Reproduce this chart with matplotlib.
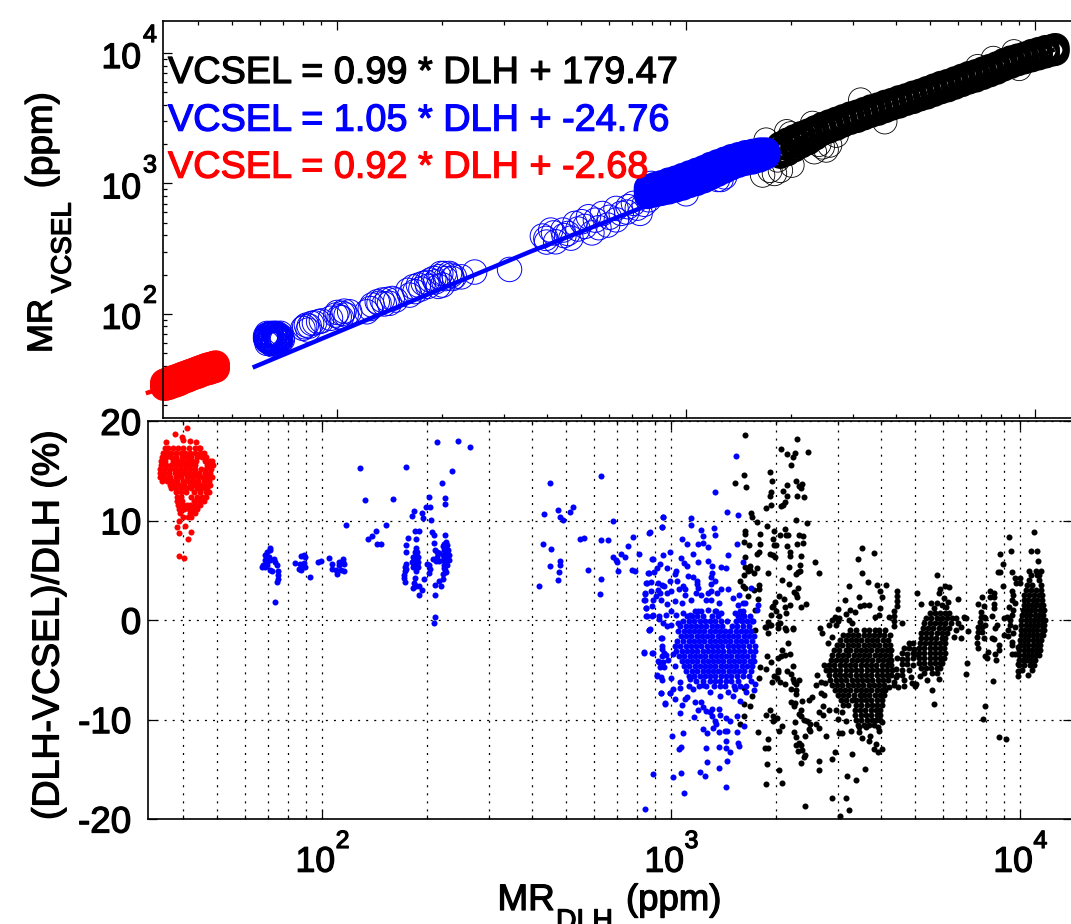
import matplotlib
matplotlib.use("Agg")
import matplotlib.pyplot as plt
import matplotlib.patheffects as pe
import numpy as np
from matplotlib.ticker import LogLocator, NullFormatter, FixedLocator

plt.rcParams['font.family'] = ['Liberation Sans', 'DejaVu Sans']

# ---- bottom panel: (log10 MR_DLH, percent difference) -----------------------
red_rows = [
 (17.3,[1.550,1.558,1.573,1.587,1.602,1.618,1.634,1.648]),
 (16.85,[1.544,1.556,1.567,1.580,1.594,1.607,1.621,1.636,1.651,1.661]),
 (16.45,[1.541,1.553,1.566,1.582,1.597,1.612,1.625,1.641,1.656,1.668]),
 (16.05,[1.539,1.549,1.572,1.586,1.600,1.615,1.628,1.638,1.665,1.677,1.684]),
 (15.65,[1.537,1.551,1.566,1.581,1.594,1.609,1.622,1.636,1.670,1.681,1.688]),
 (15.25,[1.535,1.548,1.563,1.578,1.593,1.606,1.620,1.636,1.652,1.667,1.680]),
 (14.85,[1.534,1.546,1.560,1.577,1.590,1.605,1.619,1.633,1.648,1.663,1.678]),
 (14.45,[1.536,1.550,1.565,1.580,1.596,1.611,1.626,1.640,1.655,1.670,1.683]),
 (14.05,[1.540,1.555,1.569,1.584,1.600,1.615,1.630,1.645,1.660,1.675]),
 (13.65,[1.563,1.575,1.590,1.605,1.620,1.635,1.650,1.664,1.678]),
 (13.25,[1.566,1.580,1.596,1.610,1.625,1.640,1.655,1.670]),
 (12.85,[1.580,1.595,1.610,1.632,1.650,1.668,1.675]),
 (12.4,[1.583,1.595,1.625,1.640,1.655,1.668]),
 (12.0,[1.585,1.598,1.632,1.648,1.660]),
 (11.6,[1.587,1.600,1.612,1.622,1.636,1.650]),
 (11.2,[1.590,1.604,1.618,1.630,1.642]),
 (10.8,[1.592,1.622,1.635]),
 (10.4,[1.600,1.615,1.625]),
]
red_single = [(1.613,19.3),(1.578,18.7),(1.597,18.4),(1.552,17.9),(1.621,18.0),(1.637,17.9),(1.650,17.3),(1.602,18.1),
 (1.590,9.95),(1.584,9.35),(1.608,9.5),(1.590,8.8),(1.623,8.9),(1.616,8.2),(1.590,6.5),(1.604,6.3)]

blue_low = [
 (1.851,7.3),(1.851,7.1),(1.841,6.9),(1.836,6.6),(1.846,6.4),(1.836,6.1),(1.831,5.6),(1.841,5.9),(1.851,6.1),(1.861,6.2),
 (1.866,5.9),(1.871,5.6),(1.836,5.4),(1.851,5.1),(1.856,4.9),(1.873,4.9),(1.873,4.5),(1.873,4.1),(1.871,3.8),(1.866,1.8),(1.828,5.4),(1.843,5.6),
 (1.948,6.6),(1.940,6.5),(1.950,6.4),(1.923,5.8),(1.935,5.7),(1.948,5.8),(1.933,5.2),(1.940,5.1),(1.950,5.4),(1.945,5.6),(1.964,4.3),
 (1.989,5.9),(1.997,6.0),(2.018,6.3),
 (2.059,6.2),(2.048,5.9),(2.060,5.9),(2.029,5.7),(2.063,5.7),(2.048,5.6),(2.029,5.2),(2.038,5.1),(2.063,4.9),(2.043,4.6),(2.053,5.1),
 (2.108,15.3),(2.122,12.1),(2.202,12.2),(2.239,15.4),(2.328,17.9),(2.389,18.0),(2.424,17.4),(2.371,15.0),(2.343,13.8),(2.352,12.3),(2.352,11.7),
 (2.305,12.4),(2.297,11.4),(2.309,11.4),(2.263,11.0),(2.256,10.5),(2.286,10.8),(2.288,10.3),(2.312,10.1),(2.067,9.6),(2.182,9.6),(2.154,9.0),
 (2.142,8.5),(2.132,8.2),(2.167,7.7),(2.157,7.7),
 (2.233,4.5),(2.236,3.8),(2.239,5.7),(2.239,5.2),(2.236,4.9),(2.241,7.6),(2.241,6.9),(2.246,8.3),(2.233,4.2),(2.236,5.4),
 (2.270,7.3),(2.266,6.9),(2.272,6.9),(2.259,6.4),(2.266,6.4),(2.275,6.4),(2.258,5.9),(2.266,5.9),(2.275,5.9),(2.259,5.4),(2.269,5.4),(2.275,5.4),
 (2.268,4.9),(2.262,6.1),(2.270,6.1),(2.264,5.6),(2.272,5.6),(2.270,6.7),
 (2.266,9.0),(2.277,9.0),(2.270,8.2),(2.266,4.2),(2.264,3.7),(2.259,3.2),(2.270,3.4),(2.285,3.0),(2.276,2.5),(2.278,3.4),
 (2.315,8.9),(2.320,8.6),(2.320,7.8),(2.322,7.1),(2.330,6.9),(2.318,6.2),(2.325,6.0),(2.300,5.7),(2.305,5.6),(2.310,5.2),(2.305,4.7),(2.293,4.1),
 (2.322,3.5),(2.323,2.5),(2.323,0.3),(2.321,-0.3),(2.335,6.8),(2.335,6.0),(2.330,6.4),
 (2.351,8.6),(2.356,7.9),(2.345,7.5),(2.359,7.6),(2.349,7.1),(2.361,7.1),(2.345,6.6),(2.354,6.6),(2.362,6.6),(2.345,6.1),(2.354,6.1),(2.362,6.1),
 (2.349,5.6),(2.359,5.6),(2.351,5.1),(2.345,4.6),(2.354,4.8),(2.347,4.1),(2.335,3.9),(2.340,3.4),(2.349,7.7),(2.353,7.3),(2.358,6.9),(2.350,5.3),
]
blue_mid = [
 (2.654,13.8),(2.798,14.5),(2.636,10.7),(2.677,11.1),(2.720,11.4),(2.711,10.9),(2.681,10.4),(2.691,10.1),(2.834,10.0),(2.632,7.7),(2.656,7.2),
 (2.738,8.2),(2.750,8.3),(2.798,8.1),(2.818,8.1),(2.681,6.0),(2.681,5.6),(2.654,5.5),(2.678,4.8),(2.676,4.0),(2.622,3.4),(2.761,5.1),(2.800,4.1),
 (2.796,2.6),(2.847,4.9),(2.832,6.4),(2.842,6.1),(2.845,5.9),(2.857,6.7),(2.869,6.4),(2.877,7.5),(2.891,8.4),(2.937,8.8),(2.909,6.7),(2.888,5.1),
 (2.897,4.9),(2.977,10.4),(2.975,9.4),(2.946,6.2),(2.936,4.7),(2.930,3.7),(2.925,2.7),(2.923,2.0),(2.928,1.2),(2.928,0.4),(2.946,0.4),(2.936,-1.0),
 (2.922,-3.2),(2.946,-3.3),(2.965,0.4),(2.971,-1.8),(2.975,-2.6),(2.980,-3.3),(2.965,-4.2),(2.980,-4.7),(2.960,-5.6),(2.970,-5.7),(2.971,-7.3),(2.982,-8.3),(2.997,-7.3),
]
blue_upper = [
 (3.187,16.5),(3.126,12.9),(3.161,10.9),(3.191,10.6),(2.978,10.4),(3.056,10.3),(2.975,9.4),(3.057,9.6),(2.939,8.9),(3.085,9.1),(3.122,9.3),(3.091,8.5),
 (3.126,8.6),(3.031,8.2),(3.046,7.7),(3.077,7.7),(3.092,7.8),(3.106,7.4),(3.188,7.7),(2.996,6.9),(2.977,6.6),(2.947,6.2),(3.029,6.3),(3.063,6.7),(3.163,6.6),
 (2.968,5.7),(2.960,5.3),(2.987,5.3),(3.038,5.8),(3.045,5.5),(3.076,5.9),(3.105,6.0),(3.118,5.5),(3.142,5.4),(3.156,5.3),(2.934,4.7),(2.951,4.8),(3.015,5.0),
 (3.012,4.6),(3.048,4.4),(3.115,4.3),(3.118,4.7),(3.127,3.9),(3.063,4.3),(3.073,3.9),(3.074,3.6),(2.929,3.7),(2.941,3.8),(2.998,3.9),(3.017,3.9),(3.114,3.6),
 (2.963,3.7),(2.973,3.5),(2.979,3.4),(3.022,3.1),(3.034,3.4),(3.039,3.1),(3.077,3.2),(2.941,2.9),(2.963,3.0),(2.967,2.7),(3.001,2.9),(2.989,2.7),(2.925,2.6),
 (2.948,2.0),(2.925,2.0),(2.944,1.4),(2.929,1.2),(2.958,2.4),(2.970,2.0),(2.987,1.6),(3.011,1.9),(3.030,1.7),(3.039,2.5),(3.072,2.7),(3.086,2.5),(3.106,2.7),
 (3.113,2.9),(3.132,2.7),(3.144,3.1),(3.163,3.1),(3.176,2.2),(3.195,2.5),(3.101,2.0),(3.115,2.0),(3.058,2.0),(3.136,1.7),(3.192,1.5),(3.206,1.7),(3.230,3.2),
 (3.206,5.9),(3.250,1.5),(3.245,1.0),(2.931,0.4),(2.948,0.5),(2.965,0.1),(2.986,0.5),(3.001,0.9),(3.015,0.5),(3.034,0.7),(3.053,0.5),(3.077,0.9),(3.105,1.0),
 (3.125,0.9),(3.144,0.7),(3.183,0.7),(3.197,0.9),(3.211,1.7),(3.197,0.0),(3.235,-0.1),(2.977,-0.3),(3.000,-0.5),(3.019,-0.3),(2.939,-0.9),(2.987,-0.6),
]
blue_lower = [
 (2.937,-1.0),(2.923,-3.3),(2.947,-3.3),(2.972,-7.3),(2.983,-8.4),(3.011,-7.9),(2.997,-7.3),(3.025,-9.3),(3.031,-8.5),(3.041,-7.9),(3.046,-7.7),(3.066,-9.7),
 (3.077,-9.0),(3.090,-10.9),(3.103,-11.3),(3.120,-10.8),(3.138,-11.2),(3.154,-11.1),(3.160,-11.1),(3.190,-11.2),(3.208,-10.6),(3.190,-9.6),(3.157,-9.8),
 (3.168,-10.1),(3.141,-9.5),(3.130,-10.4),(3.125,-10.1),(3.118,-9.6),(3.111,-9.2),(3.136,-8.9),(3.118,-8.9),(3.101,-9.1),(3.092,-8.7),(3.085,-8.2),(3.068,-8.2),
 (3.003,-11.7),(3.034,-11.3),(3.027,-12.8),(3.023,-13.0),(3.099,-12.9),(3.136,-12.8),(3.158,-12.9),(3.158,-12.2),(3.168,-13.3),(3.192,-12.4),(3.194,-12.7),
 (3.104,-14.3),(3.161,-14.2),(3.137,-14.9),(3.083,-15.3),(3.097,-15.7),(2.948,-15.5),(3.029,-15.4),(3.005,-15.8),(3.037,-17.4),(3.157,-16.8),(2.926,-19.0),
 (2.960,-5.5),(2.975,-6.0),(3.001,-5.8),(3.025,-6.2),(3.006,-6.9),(3.025,-6.8),(3.053,-5.9),(3.063,-6.9),(3.090,-6.5),(3.111,-7.2),(3.139,-7.6),(3.163,-7.2),
 (3.178,-7.6),(3.197,-8.1),(3.182,-6.9),(3.238,-7.0),(3.240,-6.4),(3.216,-7.2),(2.968,-4.7),(2.977,-4.2),(2.991,-4.0),(2.963,-4.1),(2.974,-3.6),(2.975,-2.9),(2.974,-1.8),
 (3.005,-3.4),(2.985,-3.5),
]
blue_core_rows = [
 (0.9,[3.068,3.086,3.130,3.205]),
 (0.4,[3.045,3.060,3.075,3.092,3.118,3.135,3.192,3.210,3.226]),
 (-0.1,[3.035,3.050,3.066,3.082,3.098,3.112,3.127,3.142,3.160,3.186,3.202,3.218,3.232]),
 (-0.6,[3.026,3.042,3.057,3.071,3.087,3.101,3.116,3.131,3.146,3.175,3.190,3.206,3.222]),
 (-1.1,[3.020,3.036,3.052,3.065,3.080,3.095,3.110,3.125,3.140,3.155,3.170,3.185,3.200,3.215,3.230]),
 (-1.6,[3.028,3.044,3.058,3.073,3.088,3.103,3.118,3.133,3.148,3.163,3.178,3.193,3.208,3.223,3.238]),
 (-2.1,[3.018,3.034,3.050,3.065,3.080,3.095,3.110,3.125,3.140,3.155,3.170,3.185,3.200,3.215,3.232]),
 (-2.6,[3.010,3.026,3.042,3.057,3.072,3.087,3.102,3.117,3.132,3.147,3.162,3.177,3.192,3.207,3.222,3.240]),
 (-3.1,[3.014,3.030,3.046,3.060,3.075,3.090,3.105,3.120,3.135,3.150,3.165,3.180,3.195,3.210,3.226,3.240]),
 (-3.6,[3.022,3.038,3.053,3.068,3.083,3.098,3.113,3.128,3.143,3.158,3.173,3.188,3.203,3.218,3.234]),
 (-4.1,[3.030,3.045,3.060,3.075,3.090,3.105,3.120,3.135,3.150,3.165,3.180,3.195,3.210,3.225,3.238]),
 (-4.6,[3.012,3.036,3.052,3.067,3.082,3.097,3.112,3.127,3.142,3.157,3.172,3.187,3.202,3.217,3.232]),
 (-5.1,[3.044,3.060,3.075,3.090,3.105,3.120,3.135,3.150,3.165,3.180,3.195,3.210,3.228]),
 (-5.6,[3.050,3.066,3.082,3.097,3.112,3.127,3.142,3.157,3.172,3.190,3.205,3.222]),
 (-6.1,[3.072,3.092,3.110,3.126,3.141,3.156,3.172,3.192,3.228]),
 (-6.6,[3.050,3.080,3.100,3.122,3.140,3.155,3.180,3.198,3.214]),
]

black_scatter = [
 (3.212,18.6),(3.361,18.2),(3.315,17.2),(3.331,16.7),(3.355,16.8),(3.350,16.4),(3.343,15.6),(3.393,16.9),(3.283,14.9),(3.208,14.6),(3.182,13.8),(3.216,13.4),
 (3.289,14.0),(3.331,13.6),(3.358,14.0),(3.375,13.7),(3.367,13.5),(3.373,13.3),(3.320,13.0),(3.287,12.9),(3.284,12.5),(3.331,12.5),(3.360,12.5),(3.382,12.4),
 (3.327,11.9),(3.321,11.6),(3.316,11.5),(3.285,11.6),(3.273,11.3),(3.230,10.8),(3.233,10.4),(3.246,9.9),(3.276,9.5),(3.358,10.1),(3.389,9.8),(3.326,9.2),
 (3.295,9.0),(3.212,9.0),(3.212,8.7),(3.255,8.7),(3.312,8.6),(3.328,8.6),(3.336,8.6),(3.366,8.6),(3.378,8.5),(3.292,8.2),(3.209,7.9),(3.222,7.6),(3.255,7.7),
 (3.294,7.6),(3.302,7.6),(3.333,7.5),(3.362,7.7),(3.379,7.8),(3.251,6.9),(3.245,6.7),(3.283,6.7),(3.293,6.6),(3.299,6.4),(3.340,6.9),(3.340,6.5),(3.212,6.4),
 (3.371,6.5),(3.212,5.4),(3.227,5.5),(3.246,5.3),(3.226,5.1),(3.339,5.4),(3.369,5.6),(3.369,4.9),(3.359,4.6),(3.364,4.8),(3.221,5.0),(3.238,4.7),(3.209,4.5),
 (3.278,4.7),(3.197,3.9),(3.319,4.0),(3.338,3.6),(3.365,3.2),(3.206,3.4),(3.211,3.2),(3.238,3.0),(3.252,3.5),(3.252,3.1),(3.353,2.8),(3.358,2.6),(3.362,2.3),
 (3.308,2.4),(3.297,1.8),(3.324,2.1),(3.249,2.1),(3.221,2.4),(3.342,1.5),(3.388,1.6),(3.372,1.3),(3.292,1.4),(3.290,1.3),(3.302,0.9),(3.327,1.3),(3.240,1.0),
 (3.330,0.7),(3.287,0.5),(3.308,0.4),(3.206,0.5),(3.278,-0.2),(3.286,-0.5),(3.307,-0.4),(3.268,-0.7),(3.327,-0.8),(3.350,-0.8),
 (3.240,-1.0),(3.278,-1.3),(3.271,-0.7),(3.283,-0.5),(3.307,-0.8),(3.328,-1.0),(3.350,-0.9),(3.311,-0.3),(3.335,-2.3),(3.319,-3.0),(3.342,-3.4),(3.326,-3.5),
 (3.316,-3.6),(3.305,-3.8),(3.275,-3.6),(3.285,-4.2),(3.350,-4.6),(3.272,-4.9),(3.333,-5.1),(3.305,-5.0),(3.307,-5.2),(3.345,-5.4),(3.350,-5.9),(3.367,-6.0),
 (3.295,-5.6),(3.304,-5.8),(3.290,-6.2),(3.311,-6.2),(3.325,-6.4),(3.352,-6.2),(3.357,-6.4),(3.345,-6.9),(3.359,-7.0),(3.359,-7.4),(3.344,-8.2),(3.354,-8.3),
 (3.351,-8.6),(3.376,-8.1),(3.371,-9.0),(3.367,-9.4),(3.371,-9.6),(3.380,-10.0),(3.390,-10.1),(3.397,-10.4),(3.397,-11.1),(3.283,-9.0),(3.273,-9.5),(3.292,-9.6),
 (3.304,-9.8),(3.292,-10.1),(3.354,-10.2),(3.318,-10.6),(3.308,-11.1),(3.248,-11.2),(3.197,-10.4),(3.225,-8.6),(3.208,-8.4),(3.233,-7.6),(3.208,-6.8),(3.209,-9.6),
 (3.352,-11.2),(3.357,-11.8),(3.383,-11.7),(3.367,-12.4),(3.373,-12.6),(3.359,-12.6),(3.365,-13.2),(3.383,-13.6),(3.380,-13.8),(3.375,-13.1),(3.279,-12.0),
 (3.268,-12.9),(3.278,-12.9),(3.274,-14.5),(3.308,-15.1),(3.273,-16.5),(3.318,-16.4),(3.372,-14.4),(3.385,-18.7),(3.252,-5.8),(3.254,-4.7),
 (3.413,5.9),(3.424,4.7),(3.547,7.3),(3.536,6.2),(3.582,6.8),(3.548,4.7),(3.565,3.8),(3.510,3.4),(3.590,3.5),(3.617,3.5),(3.598,2.9),(3.603,2.3),(3.539,2.3),
 (3.497,2.0),(3.552,1.5),(3.541,1.4),(3.567,1.5),(3.600,1.2),(3.478,1.1),(3.513,1.0),(3.526,0.8),(3.501,0.6),(3.470,0.3),(3.482,0.2),(3.585,0.3),(3.597,0.5),(3.625,0.3),
 (3.461,0.0),(3.477,-0.1),(3.510,0.0),(3.453,-0.5),(3.472,-0.5),(3.519,-0.3),(3.428,-0.8),(3.433,-1.3),(3.462,-1.7),(3.450,-2.3),
 (3.419,-5.5),(3.438,-4.5),(3.443,-5.0),(3.414,-6.5),(3.429,-6.2),(3.441,-6.3),(3.429,-7.3),(3.438,-7.5),(3.395,-8.0),(3.405,-7.7),(3.434,-8.6),(3.424,-9.2),
 (3.434,-9.5),(3.453,-9.0),(3.472,-9.0),(3.491,-9.2),(3.477,-9.9),(3.501,-10.1),(3.415,-10.4),(3.395,-10.9),(3.424,-10.8),(3.539,-11.2),(3.515,-11.1),
 (3.481,-11.3),(3.489,-11.3),(3.445,-11.7),(3.548,-11.9),(3.569,-11.7),(3.567,-12.2),(3.587,-12.5),(3.582,-13.0),(3.594,-13.3),(3.604,-13.0),(3.469,-13.3),
 (3.462,-14.0),(3.517,-13.5),(3.424,-14.2),(3.424,-15.1),(3.555,-15.0),(3.505,-15.7),(3.530,-16.1),(3.462,-17.9),(3.502,-17.9),(3.511,-19.1),(3.483,-19.7),
 (3.598,-10.0),(3.604,-10.2),(3.592,-10.7),(3.596,-11.1),(3.558,-10.7),(3.539,-10.7),(3.625,-6.7),(3.639,-6.2),(3.644,-5.7),
]
black_core_rows = [
 (-1.0,[3.512,3.530,3.552,3.568,3.583,3.597,3.612]),
 (-1.5,[3.493,3.508,3.522,3.537,3.552,3.568,3.581,3.596,3.611,3.628]),
 (-2.0,[3.483,3.500,3.515,3.530,3.545,3.561,3.576,3.590,3.606,3.622]),
 (-2.5,[3.474,3.490,3.507,3.522,3.537,3.552,3.567,3.582,3.597,3.612,3.628]),
 (-3.0,[3.468,3.482,3.500,3.514,3.529,3.544,3.559,3.574,3.589,3.604,3.619,3.630]),
 (-3.5,[3.462,3.478,3.493,3.508,3.523,3.538,3.553,3.568,3.583,3.598,3.613,3.628]),
 (-4.0,[3.457,3.472,3.487,3.502,3.517,3.532,3.547,3.562,3.577,3.592,3.607,3.622,3.631]),
 (-4.5,[3.453,3.468,3.483,3.498,3.513,3.528,3.543,3.558,3.573,3.588,3.603,3.618,3.630]),
 (-5.0,[3.455,3.470,3.485,3.500,3.515,3.530,3.545,3.560,3.575,3.590,3.605,3.620,3.632]),
 (-5.5,[3.453,3.469,3.484,3.499,3.514,3.529,3.544,3.559,3.574,3.589,3.604,3.619,3.630]),
 (-6.0,[3.456,3.472,3.487,3.502,3.517,3.532,3.547,3.562,3.577,3.592,3.607,3.622]),
 (-6.5,[3.461,3.476,3.491,3.506,3.521,3.536,3.551,3.566,3.581,3.596,3.610]),
 (-7.0,[3.469,3.484,3.499,3.514,3.529,3.544,3.559,3.574,3.589,3.604,3.612]),
 (-7.5,[3.478,3.493,3.508,3.523,3.540,3.553,3.568,3.583,3.598,3.610]),
 (-8.0,[3.486,3.501,3.518,3.530,3.544,3.559,3.574,3.589,3.604]),
 (-8.5,[3.492,3.508,3.530,3.545,3.560,3.575,3.590,3.604]),
 (-9.0,[3.528,3.542,3.557,3.572,3.587,3.600]),
 (-9.5,[3.528,3.544,3.559,3.574,3.589,3.598]),
 (-10.0,[3.530,3.545,3.560,3.575,3.587]),
 (-10.5,[3.537,3.552,3.567,3.581]),
]
black_b = [
 (3.646,2.9),(3.646,2.4),(3.646,1.9),(3.646,1.4),(3.639,0.9),(3.639,0.4),(3.639,-0.1),(3.639,-0.6),
 (3.682,-2.3),(3.692,-2.3),(3.667,-2.8),(3.682,-2.8),(3.697,-2.9),(3.662,-3.3),(3.677,-3.4),(3.692,-3.3),(3.702,-3.4),(3.663,-3.9),(3.677,-3.9),(3.692,-3.8),
 (3.663,-4.4),(3.677,-4.4),(3.692,-4.5),(3.663,-5.0),(3.682,-5.0),(3.663,-5.5),(3.687,-5.7),(3.667,-6.0),(3.690,-6.3),(3.667,-6.6),(3.698,-6.6),(3.701,-6.4),
 (3.650,-6.7),(3.640,-6.5),(3.646,-5.5),(3.645,-4.9),(3.648,-3.8),
]
black_c_rows = [
 (0.7,[3.741,3.756,3.771,3.786,3.797]),
 (0.2,[3.731,3.746,3.761,3.776,3.791,3.806]),
 (-0.3,[3.726,3.741,3.756,3.771,3.786,3.801]),
 (-0.8,[3.722,3.737,3.752,3.767,3.782,3.797]),
 (-1.3,[3.716,3.731,3.746,3.761,3.776,3.790]),
 (-1.8,[3.715,3.730,3.745,3.760,3.775,3.786]),
 (-2.3,[3.712,3.727,3.742,3.757,3.772,3.786]),
 (-2.8,[3.711,3.726,3.741,3.756,3.771,3.782]),
 (-3.3,[3.711,3.726,3.741,3.756,3.771,3.786]),
 (-3.8,[3.711,3.726,3.741,3.756,3.771,3.782]),
 (-4.3,[3.711,3.726,3.741,3.756,3.771,3.777]),
 (-4.8,[3.716,3.731,3.746,3.761,3.772]),
 (-5.3,[3.726,3.749,3.763]),
]
black_c_extra = [
 (3.763,4.5),(3.772,3.1),(3.785,3.4),(3.797,3.3),(3.768,2.7),(3.782,2.2),(3.794,1.8),(3.821,2.1),(3.704,2.7),(3.716,1.6),(3.744,1.7),(3.763,1.7),(3.777,1.5),
 (3.754,1.2),(3.787,1.3),(3.816,0.2),(3.840,0.3),(3.845,0.2),(3.852,-1.1),(3.821,-0.3),(3.830,-0.7),(3.811,-1.7),(3.832,-1.8),(3.816,-1.0),(3.663,-0.3),
 (3.749,-7.0),(3.754,-8.4),(3.734,-6.0),(3.768,-5.9),(3.714,-5.6),(3.847,-4.3),(3.845,-5.4),(3.923,-6.1),(3.900,-8.6),(3.895,-9.9),(3.940,-11.8),(3.959,-12.0),
]
black_d = [
 (3.892,2.3),(3.880,1.6),(3.896,1.4),(3.889,0.8),(3.887,0.3),(3.896,0.3),(3.885,-0.2),(3.901,0.2),(3.881,-0.7),(3.891,-0.7),(3.901,-0.5),(3.881,-1.2),(3.891,-1.2),
 (3.876,-1.7),(3.896,-1.8),(3.876,-2.3),(3.879,-2.8),(3.920,-1.8),(3.925,-1.9),(3.915,2.9),(3.924,2.7),(3.915,2.3),(3.924,2.3),(3.924,1.6),(3.926,1.2),(3.920,0.4),
 (3.933,-0.5),(3.954,0.2),(3.964,0.3),(3.929,-0.8),(3.954,-1.5),(3.940,-2.5),(3.940,-3.0),(3.928,-3.4),(3.930,-4.0),(3.909,-3.2),(3.906,-3.8),(3.899,-3.6),
 (3.985,-3.4),
]
black_e_rows = [
 (5.0,[4.026,4.045,4.059]),
 (4.5,[4.031,4.050,4.054]),
 (4.0,[4.026,4.054]),
 (3.5,[4.021,4.035,4.059]),
 (3.0,[4.016,4.031,4.045,4.059]),
 (2.5,[4.012,4.026,4.040,4.054,4.062]),
 (2.0,[4.012,4.024,4.038,4.050,4.064]),
 (1.5,[4.010,4.022,4.034,4.046,4.058,4.066]),
 (1.0,[4.008,4.020,4.032,4.044,4.056,4.068]),
 (0.5,[4.006,4.018,4.030,4.042,4.054,4.066]),
 (0.0,[4.004,4.016,4.028,4.040,4.052,4.064,4.072]),
 (-0.5,[4.004,4.016,4.028,4.040,4.052,4.064,4.070]),
 (-1.0,[4.002,4.014,4.026,4.038,4.050,4.062,4.068]),
 (-1.5,[4.002,4.014,4.026,4.038,4.050,4.060,4.066]),
 (-2.0,[4.000,4.012,4.024,4.036,4.048,4.060]),
 (-2.5,[4.000,4.012,4.024,4.036,4.048,4.058]),
 (-3.0,[3.998,4.010,4.022,4.034,4.046,4.056]),
 (-3.5,[3.998,4.010,4.022,4.034,4.046,4.054]),
 (-4.0,[3.996,4.008,4.020,4.032,4.044]),
 (-4.5,[3.997,4.012,4.028,4.040]),
 (-5.0,[4.005,4.035]),
]
black_e_extra = [
 (3.968,8.4),(3.975,7.0),(3.943,6.7),(3.951,5.7),(3.937,4.8),(3.944,4.8),(3.978,4.8),(3.986,4.2),(4.000,4.2),(3.988,3.7),(4.000,3.7),(3.952,3.4),(3.978,2.9),
 (3.981,2.5),(3.976,2.0),(3.986,1.7),(3.968,1.3),(3.981,1.0),(3.976,0.5),(3.971,0.0),(3.971,-0.5),(3.986,-0.7),(3.966,-1.0),(3.981,-1.3),(3.966,-1.6),(3.976,-2.2),
 (3.978,-2.5),(3.995,-2.7),(3.976,-3.4),(3.995,-4.4),(3.993,-5.1),(3.995,-5.6),(4.023,-5.5),(4.039,8.9),(4.031,7.0),(4.050,7.0),(4.051,6.0),
]

# ---- top panel: (log10 x, log10 y) read along the band -----------------------
top_black_core = [
 (3.27,[3.22,3.25,3.29]),(3.29,[3.24,3.28,3.32]),(3.31,[3.27,3.31,3.345]),(3.33,[3.30,3.335,3.37]),(3.35,[3.325,3.36,3.39]),(3.37,[3.36,3.39,3.415]),
 (3.39,[3.395,3.42,3.44]),(3.41,[3.415,3.44,3.46]),(3.43,[3.435,3.46,3.48]),(3.45,[3.46,3.48,3.50]),(3.47,[3.48,3.50,3.52]),(3.49,[3.495,3.515,3.535]),
 (3.51,[3.515,3.535,3.555]),(3.53,[3.535,3.555,3.575]),(3.55,[3.55,3.57,3.59]),(3.57,[3.57,3.59,3.61]),(3.59,[3.59,3.61,3.625]),(3.61,[3.605,3.625,3.645]),
 (3.63,[3.625,3.645,3.66]),(3.65,[3.64,3.66,3.68]),(3.67,[3.66,3.68,3.695]),(3.69,[3.675,3.695,3.715]),(3.71,[3.695,3.715,3.735]),(3.73,[3.715,3.735,3.755]),
 (3.75,[3.73,3.75,3.77]),(3.77,[3.75,3.77,3.79]),(3.79,[3.77,3.79,3.81]),(3.81,[3.79,3.81,3.83]),(3.83,[3.805,3.825,3.845]),(3.85,[3.825,3.845,3.865]),
 (3.87,[3.845,3.865,3.885]),(3.89,[3.865,3.885,3.905]),(3.91,[3.89,3.91,3.93]),(3.93,[3.91,3.93,3.95]),(3.95,[3.93,3.95,3.965]),(3.97,[3.945,3.965,3.98]),
 (3.99,[3.96,3.98,4.00]),(4.01,[3.975,3.995,4.015]),(4.03,[3.99,4.01,4.03]),(4.05,[4.005,4.02,4.04]),(4.058,[4.01,4.027,4.045]),
]
top_black_rings = [
 (3.229,3.332),(3.219,3.064),(3.253,3.076),(3.303,3.140),(3.288,3.396),(3.367,3.243),(3.411,3.294),(3.401,3.256),(3.362,3.460),(3.500,3.639),(3.569,3.473),
 (3.880,3.958),(3.939,4.009),(3.835,3.895),(3.954,3.882),(3.262,3.18),(3.24,3.10),(3.27,3.10),(3.38,3.30),(3.39,3.28),(3.30,3.38),(3.43,3.37),
]
top_blue_core = [
 (2.90,[2.92,2.94,2.96]),(2.92,[2.93,2.955,2.98]),(2.94,[2.945,2.97,2.995]),(2.96,[2.96,2.985,3.01]),(2.98,[2.975,3.00,3.03]),(3.00,[2.99,3.02,3.05]),
 (3.02,[3.01,3.04,3.07]),(3.04,[3.03,3.06,3.09]),(3.06,[3.05,3.08,3.11]),(3.08,[3.08,3.105,3.13]),(3.10,[3.105,3.13,3.155]),(3.12,[3.13,3.155,3.175]),
 (3.14,[3.15,3.175,3.195]),(3.16,[3.17,3.19,3.21]),(3.18,[3.185,3.205,3.225]),(3.20,[3.195,3.215,3.235]),(3.22,[3.205,3.225,3.245]),(3.23,[3.215,3.23,3.245]),
 (2.89,[2.91,2.94,2.965]),(2.91,[2.925,2.95,2.98]),(2.93,[2.935,2.965,2.995]),(2.95,[2.945,2.98,3.015]),(2.97,[2.96,2.995,3.03]),(2.99,[2.975,3.01,3.05]),
 (3.01,[2.995,3.03,3.07]),(3.03,[3.01,3.05,3.09]),(3.05,[3.03,3.07,3.11]),(3.07,[3.055,3.095,3.135]),(3.09,[3.08,3.12,3.155]),(3.11,[3.105,3.14,3.175]),
 (3.13,[3.13,3.165,3.195]),(3.15,[3.15,3.18,3.21]),(3.17,[3.165,3.195,3.225]),(3.19,[3.175,3.21,3.235]),(3.21,[3.19,3.22,3.245]),
]
top_blue_left = [
 (1.800,1.835),(1.808,1.842),(1.820,1.838),(1.830,1.832),(1.836,1.815),(1.800,1.792),(1.808,1.785),(1.820,1.786),(1.830,1.790),(1.836,1.800),
 (1.797,1.812),(1.804,1.805),(1.832,1.822),(1.814,1.776),(1.824,1.846),
]
top_blue_rings = [
 (1.799,1.849),(1.809,1.849),(1.818,1.850),(1.828,1.849),(1.838,1.85),(1.799,1.811),(1.806,1.815),(1.826,1.806),(1.834,1.811),(1.838,1.83),(1.799,1.773),
 (1.809,1.773),(1.818,1.78),(1.828,1.775),(1.838,1.79),(1.802,1.83),(1.812,1.84),(1.822,1.84),(1.801,1.79),(1.795,1.81),(1.795,1.83),(1.842,1.815),(1.843,1.80),
 (1.806,1.795),(1.832,1.785),(1.815,1.762),(1.826,1.765),
 (1.902,1.888),(1.912,1.913),(1.927,1.926),(1.947,1.939),(1.907,1.900),(1.917,1.875),(1.920,1.905),(1.935,1.93),(1.955,1.945),
 (1.996,1.990),(2.016,2.003),(2.026,1.990),(2.006,1.977),(1.981,1.965),(2.036,2.015),(2.012,1.97),(2.00,2.01),(2.02,2.02),
 (2.100,2.067),(2.115,2.092),(2.129,2.105),(2.144,2.11),(2.120,2.08),(2.085,2.015),(2.095,2.04),(2.158,2.117),(2.168,2.105),(2.135,2.075),(2.15,2.08),
 (2.203,2.18),(2.218,2.207),(2.233,2.22),(2.247,2.233),(2.267,2.258),(2.208,2.143),(2.223,2.17),(2.257,2.24),(2.277,2.271),(2.292,2.284),(2.307,2.309),(2.322,2.309),
 (2.302,2.22),(2.327,2.296),(2.297,2.309),(2.282,2.245),(2.24,2.19),(2.26,2.21),(2.31,2.27),(2.29,2.21),(2.33,2.27),
 (2.336,2.283),(2.394,2.320),(2.494,2.340),(2.356,2.283),
 (2.588,2.596),(2.598,2.578),(2.612,2.642),(2.626,2.552),(2.647,2.642),(2.661,2.616),(2.681,2.693),(2.701,2.706),(2.720,2.744),(2.740,2.718),(2.760,2.769),
 (2.775,2.680),(2.799,2.808),(2.814,2.770),(2.834,2.821),(2.849,2.847),(2.868,2.770),(2.893,2.874),(2.67,2.58),(2.73,2.62),(2.60,2.55),(2.75,2.66),(2.80,2.72),
 (2.62,2.62),(2.65,2.60),(2.69,2.65),(2.71,2.67),(2.78,2.74),(2.83,2.78),(2.86,2.81),(2.88,2.84),(2.90,3.00),(3.09,3.03),(3.10,3.03),(3.11,3.05),(3.0,2.92),
]
top_red_core = [
 (1.505,[1.44,1.455,1.47]),(1.52,[1.45,1.47,1.485]),(1.535,[1.465,1.485,1.50]),(1.55,[1.48,1.50,1.515]),(1.565,[1.50,1.515,1.53]),(1.58,[1.515,1.53,1.545]),
 (1.595,[1.53,1.545,1.56]),(1.61,[1.545,1.56,1.575]),(1.625,[1.56,1.575,1.59]),(1.64,[1.57,1.585,1.60]),(1.652,[1.58,1.595,1.61]),
 (1.5125,[1.445,1.462,1.478]),(1.5275,[1.46,1.478,1.495]),(1.5425,[1.472,1.492,1.508]),(1.5575,[1.49,1.508,1.524]),(1.5725,[1.505,1.522,1.538]),
 (1.5875,[1.522,1.538,1.552]),(1.6025,[1.535,1.552,1.568]),(1.6175,[1.552,1.568,1.582]),(1.6325,[1.562,1.58,1.596]),(1.646,[1.575,1.59,1.605]),
]
line_blue = ([1.764,2.5527,3.2434],[1.594,2.4757,3.2043])
line_red = ([1.458,1.675],[1.395,1.594])
line_black = ([3.27,4.05],[3.25,4.02])

eq_texts = ["VCSEL = 0.99 * DLH + 179.47","VCSEL = 1.05 * DLH + -24.76","VCSEL = 0.92 * DLH + -2.68"]
eq_colors = ['black','#0000ff','#ff0000']
x_ticks = [100,1000,10000]
decade_exponents = ['2','3','4']
y_top_ticks = [100,1000,10000]
y_bot_ticks = [-20,-10,0,10,20]

def flat_rows(rows):
    return [(l,p) for p,ls in rows for l in ls]
def flat_cols(cols):
    return [(l,p) for l,ps in cols for p in ps]
def xy(pairs):
    a=np.array(pairs,float)
    return 10**a[:,0], a[:,1]
def xy10(pairs):
    a=np.array(pairs,float)
    return 10**a[:,0], 10**a[:,1]

W,H=1071,924
PT=0.72  # points per pixel at dpi 100
fig=plt.figure(figsize=(W/100,H/100),dpi=100)
def axpx(l,t,r,b):
    return fig.add_axes([l/W,1-b/H,(r-l)/W,(b-t)/H])
bold=[pe.withStroke(linewidth=0.9,foreground='k')]

ax1=axpx(162.5,20.7,1087,418.3)
ax2=axpx(147.7,421.4,1072,819)
for a in (ax1,ax2):
    a.set_xscale('log')
    for s in a.spines.values():
        s.set_linewidth(1.2); s.set_zorder(6)
ax1.set_xlim(10**1.4997,10**(4+(1087-1035.2)/349))
ax2.set_xlim(10**1.4997,10**4.149)
ax1.set_yscale('log'); ax1.set_ylim(10**1.198,10**4.248)
ax2.set_ylim(-20,20)

# top panel
ring=310
ax1.plot(10**np.array(line_black[0]),10**np.array(line_black[1]),color='k',lw=3,zorder=2)
x,y=xy10(flat_cols(top_black_core)); ax1.scatter(x,y,s=ring,facecolors='none',edgecolors='k',linewidths=2.8,clip_on=False,zorder=2)
x,y=xy10(top_black_rings); ax1.scatter(x,y,s=ring,facecolors='none',edgecolors='k',linewidths=0.6,clip_on=False,zorder=2)
x,y=xy10(top_blue_rings); ax1.scatter(x,y,s=ring,facecolors='none',edgecolors='#0000ff',linewidths=0.7,clip_on=False,zorder=3)
x,y=xy10(top_blue_left); ax1.scatter(x,y,s=ring,facecolors='none',edgecolors='#0000ff',linewidths=1.2,clip_on=False,zorder=3)
x,y=xy10(flat_cols(top_blue_core)); ax1.scatter(x,y,s=ring,facecolors='none',edgecolors='#0000ff',linewidths=2.6,clip_on=False,zorder=3)
ax1.plot(10**np.array(line_blue[0]),10**np.array(line_blue[1]),color='#0000ff',lw=3.2,zorder=3)
ax1.plot(10**np.array(line_red[0]),10**np.array(line_red[1]),color='#ff0000',lw=3.2,zorder=4,clip_on=False)
x,y=xy10(flat_cols(top_red_core)); ax1.scatter(x,y,s=ring,facecolors='none',edgecolors='#ff0000',linewidths=3,clip_on=False,zorder=4)

# bottom panel
dot=19
black=black_scatter+flat_rows(black_core_rows)+black_b+flat_rows(black_c_rows)+black_c_extra+black_d+flat_rows(black_e_rows)+black_e_extra
blue=blue_low+blue_mid+blue_upper+blue_lower+flat_rows(blue_core_rows)
red=flat_rows(red_rows)+red_single
for pts,c in ((black,'k'),(blue,'#0000ff'),(red,'#ff0000')):
    x,y=xy(pts)
    ax2.scatter(x,y,s=dot,c=c,linewidths=0,zorder=3)

dash=(0,(1.6,4.85))
ax2.grid(True,which='major',axis='y',color='k',lw=0.9,linestyle=dash,zorder=1)
ax2.grid(True,which='both',axis='x',color='k',lw=0.9,linestyle=dash,zorder=1)
ax2.set_axisbelow(True)

for a in (ax1,ax2):
    a.xaxis.set_major_locator(FixedLocator(x_ticks))
    a.xaxis.set_minor_locator(LogLocator(base=10,subs=np.arange(2,10),numticks=20))
    a.xaxis.set_minor_formatter(NullFormatter())
    a.xaxis.set_major_formatter(NullFormatter())
    a.tick_params(which='major',direction='in',length=6.3,width=0.9,top=True,bottom=True,left=True,right=True)
    a.tick_params(which='minor',direction='in',length=3.2,width=0.9,top=True,bottom=True,left=True,right=True)
ax1.yaxis.set_major_locator(FixedLocator(y_top_ticks))
ax1.yaxis.set_major_formatter(NullFormatter())
ax1.yaxis.set_minor_locator(LogLocator(base=10,subs=np.arange(2,10),numticks=20))
ax1.yaxis.set_minor_formatter(NullFormatter())
ax2.set_yticks(y_bot_ticks)
ax2.yaxis.set_major_formatter(NullFormatter())

def lab(ax,xy_,coords,dx,dy,s,size,ha):
    ax.annotate(s,xy=xy_,xycoords=coords,xytext=(dx*PT,dy*PT),textcoords='offset points',
                fontsize=size,ha=ha,va='baseline',path_effects=bold,annotation_clip=False)

# tick labels: x decades under the bottom panel
for t,e in zip(x_ticks,decade_exponents):
    lab(ax2,(t,0),('data','axes fraction'),12.8,-52.7,'10',25.6,'right')
    lab(ax2,(t,0),('data','axes fraction'),13.4,-29,e,18,'left')
# tick labels: y decades on the top panel
for t,e in zip(y_top_ticks,decade_exponents):
    lab(ax1,(0,t),('axes fraction','data'),-21.5,-15,'10',25.6,'right')
    lab(ax1,(0,t),('axes fraction','data'),-19.5,11,e,18,'left')
# tick labels: bottom-panel y
for v in y_bot_ticks:
    lab(ax2,(0,v),('axes fraction','data'),-16.7 if v<0 else -6.7,-13.5,str(v),26.5,'right')

# equations
for txt,c,yb in zip(eq_texts,eq_colors,(83,130.7,177.7)):
    fig.text(168/W,1-yb/H,txt,color=c,fontsize=27.25,va='baseline',ha='left',zorder=10,
             path_effects=[pe.withStroke(linewidth=0.9,foreground=c)])

# x label pieces (the subscript runs off the bottom edge, as in the reference)
fig.text(497.5/W,1-910/H,'MR',fontsize=26.5,va='baseline',ha='left',path_effects=bold)
fig.text(556/W,1-929/H,'DLH',fontsize=20.5,va='baseline',ha='left',path_effects=bold)
fig.text(626/W,1-910/H,'(ppm)',fontsize=26.3,va='baseline',ha='left',path_effects=bold)
# top y label pieces
kw=dict(rotation=90,va='baseline',ha='left',rotation_mode='anchor',path_effects=bold)
fig.text(51.6/W,1-353/H,'MR',fontsize=25,**kw)
fig.text(70.6/W,1-293.3/H,'VCSEL',fontsize=20,**kw)
fig.text(51.6/W,1-188.3/H,'(ppm)',fontsize=26.5,**kw)
# bottom y label
fig.text(58.5/W,1-820/H,'(DLH-VCSEL)/DLH (%)',fontsize=27,**kw)

fig.savefig('out.png',dpi=100)
